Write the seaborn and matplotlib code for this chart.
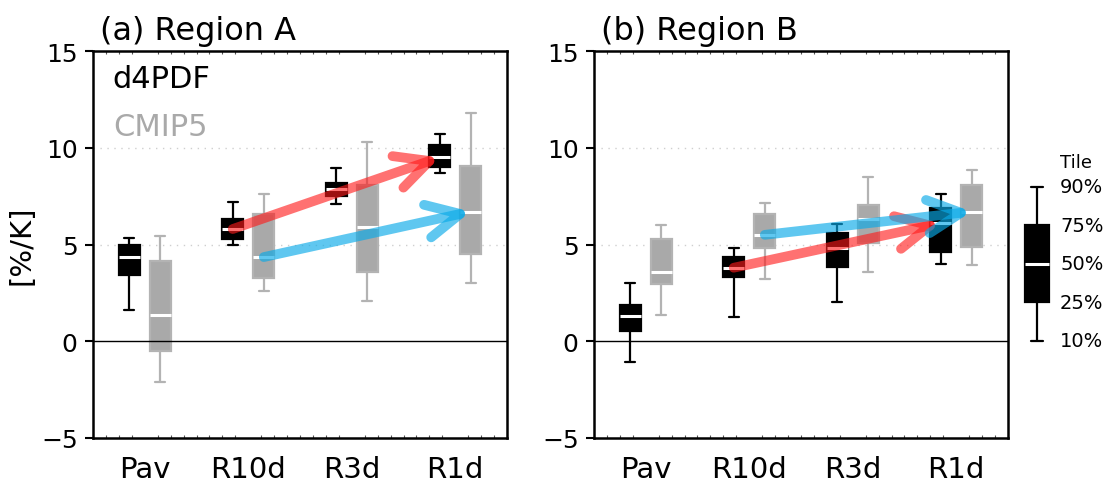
import numpy as np
import pandas as pd
import matplotlib
matplotlib.use("Agg")
import matplotlib.pyplot as plt
from matplotlib.patches import FancyArrowPatch
from matplotlib.ticker import MultipleLocator
import matplotlib.transforms as mtransforms
import seaborn as sns

# ---------------- data ----------------
categories = ["Pav", "R10d", "R3d", "R1d"]
sources = ["d4PDF", "CMIP5"]
percentile_names = ["p10", "p25", "p50", "p75", "p90"]

# Region A
a_d4_p10 = [1.6, 5.0, 7.1, 8.7]
a_d4_p25 = [3.4, 5.3, 7.5, 9.0]
a_d4_p50 = [4.35, 5.8, 7.85, 9.5]
a_d4_p75 = [5.0, 6.3, 8.2, 10.15]
a_d4_p90 = [5.35, 7.2, 8.95, 10.7]

a_cm_p10 = [-2.1, 2.6, 2.1, 3.0]
a_cm_p25 = [-0.5, 3.25, 3.6, 4.5]
a_cm_p50 = [1.35, 4.35, 5.9, 6.7]
a_cm_p75 = [4.15, 6.6, 8.05, 9.05]
a_cm_p90 = [5.45, 7.6, 10.3, 11.8]

# Region B
b_d4_p10 = [-1.05, 1.25, 2.05, 4.0]
b_d4_p25 = [0.55, 3.3, 3.85, 4.6]
b_d4_p50 = [1.3, 3.8, 4.8, 6.1]
b_d4_p75 = [1.85, 4.35, 5.6, 6.9]
b_d4_p90 = [3.0, 4.8, 6.05, 7.6]

b_cm_p10 = [1.35, 3.2, 3.6, 3.95]
b_cm_p25 = [2.95, 4.8, 5.1, 4.85]
b_cm_p50 = [3.6, 5.5, 6.3, 6.7]
b_cm_p75 = [5.3, 6.6, 7.05, 8.1]
b_cm_p90 = [6.0, 7.15, 8.5, 8.85]

panel_titles = ["(a) Region A", "(b) Region B"]
yticks = [-5, 0, 5, 10, 15]
ylabel = "[%/K]"
legend_levels = ["10%", "25%", "50%", "75%", "90%"]
legend_title = "Tile"
arrow_from, arrow_to = "R10d", "R1d"

panels = [
    {"d4PDF": [a_d4_p10, a_d4_p25, a_d4_p50, a_d4_p75, a_d4_p90],
     "CMIP5": [a_cm_p10, a_cm_p25, a_cm_p50, a_cm_p75, a_cm_p90]},
    {"d4PDF": [b_d4_p10, b_d4_p25, b_d4_p50, b_d4_p75, b_d4_p90],
     "CMIP5": [b_cm_p10, b_cm_p25, b_cm_p50, b_cm_p75, b_cm_p90]},
]

# ---------------- style ----------------
sns.set_theme(style="white")
plt.rcParams["font.family"] = ["DejaVu Sans"]
plt.rcParams["axes.linewidth"] = 1.8
for k in ["text.color", "axes.labelcolor", "xtick.color", "ytick.color", "axes.edgecolor"]:
    plt.rcParams[k] = "black"

box_colors = {"d4PDF": "black", "CMIP5": "#a9a9a9"}
line_colors = {"d4PDF": "black", "CMIP5": "#b3b3b3"}
arrow_colors = {"d4PDF": ("#ff1a1a", 0.62), "CMIP5": ("#0aaae8", 0.65)}
width = 0.6
offsets = {"d4PDF": -width / 4, "CMIP5": width / 4}

fig = plt.figure(figsize=(11.04, 4.89), dpi=100)
W, H = 1104, 489
ax_pos = [(93, 52, 507, 439), (594, 52, 1008, 439)]

for pi, (panel, title) in enumerate(zip(panels, panel_titles)):
    l, t, r, b = ax_pos[pi]
    ax = fig.add_axes([l / W, 1 - b / H, (r - l) / W, (b - t) / H])

    rows = []
    for src in sources:
        for ci, cat in enumerate(categories):
            for pn, arr in zip(percentile_names, panel[src]):
                rows.append({"cat": cat, "src": src, "val": arr[ci]})
    df = pd.DataFrame(rows)

    for src in sources:
        sub = df[df["src"] == src]
        sns.boxplot(data=sub, x="cat", y="val", hue="src", hue_order=sources,
                    order=categories, palette=box_colors, whis=(0, 100),
                    width=width, gap=0.33, dodge=True, showfliers=False,
                    legend=False, saturation=1, linewidth=1.6,
                    linecolor=line_colors[src],
                    medianprops={"color": "white", "linewidth": 2.2},
                    ax=ax, zorder=3)

    # arrows between medians
    i0, i1 = categories.index(arrow_from), categories.index(arrow_to)
    for src in sources:
        med = panel[src][2]
        col, al = arrow_colors[src]
        arr = FancyArrowPatch((i0 + offsets[src], med[i0]), (i1 + offsets[src], med[i1]),
                              arrowstyle="->,head_length=1.2,head_width=0.6",
                              mutation_scale=20, lw=7, color=col, alpha=al,
                              capstyle="round", joinstyle="round",
                              shrinkA=0, shrinkB=0, zorder=6)
        ax.add_patch(arr)

    ax.axhline(0, color="black", lw=1.0, zorder=5)
    for gy in [5, 10]:
        ax.axhline(gy, color="#cfcfcf", lw=1.0, ls=(0, (1, 4)), zorder=1)

    ax.set_xlim(-0.5, len(categories) - 0.5)
    ax.set_ylim(-5, 15)
    ax.set_yticks(yticks)
    ax.set_yticklabels([str(v) if v >= 0 else "\u2212" + str(-v) for v in yticks])
    ax.set_xlabel("")
    ax.set_ylabel("")
    ax.xaxis.set_minor_locator(MultipleLocator(0.125))
    ax.tick_params(axis="y", which="major", direction="out", length=6, width=1.5,
                   labelsize=18, pad=5, left=True, right=False, colors="black")
    ax.tick_params(axis="x", which="major", length=0, labelsize=21, pad=12,
                   colors="black")
    ax.tick_params(axis="x", which="minor", direction="in", length=2.5, width=0.8,
                   bottom=True, top=True, color="#555555")
    for sp in ax.spines.values():
        sp.set_color("black")
        sp.set_linewidth(1.8)
        sp.set_visible(True)

    ax.text(0.017, 1.012, title, transform=ax.transAxes, ha="left", va="bottom",
            fontsize=23, color="black")

    if pi == 0:
        ax.set_ylabel(ylabel, fontsize=21, labelpad=4, color="black")
        ax.text(0.048, 0.928, sources[0], transform=ax.transAxes, fontsize=22,
                color=box_colors["d4PDF"], va="center", ha="left")
        ax.text(0.048, 0.806, sources[1], transform=ax.transAxes, fontsize=22,
                color=box_colors["CMIP5"], va="center", ha="left")

# ---------------- percentile legend glyph ----------------
lax = fig.add_axes([1020 / W, 1 - 361 / H, 34 / W, (361 - 168.5) / H])
leg_df = pd.DataFrame({"pos": np.arange(len(legend_levels), dtype=float)})
sns.boxplot(data=leg_df, y="pos", whis=(0, 100), width=0.68, color="black",
            saturation=1, linecolor="black", linewidth=1.6, showfliers=False,
            medianprops={"color": "white", "linewidth": 2.2}, ax=lax)
lax.set_ylim(-0.5, len(legend_levels) - 0.5)
lax.set_xlim(-0.5, 0.5)
lax.axis("off")
trans = mtransforms.blended_transform_factory(lax.transAxes, lax.transData)
for i, lab in enumerate(legend_levels):
    lax.text(1.18, i, lab, transform=trans, fontsize=14, va="center", ha="left",
             clip_on=False, color="black")
lax.text(1.18, len(legend_levels) - 0.36, legend_title, transform=trans,
         fontsize=13, va="center", ha="left", clip_on=False, color="black")

fig.savefig("out.png", dpi=100)
